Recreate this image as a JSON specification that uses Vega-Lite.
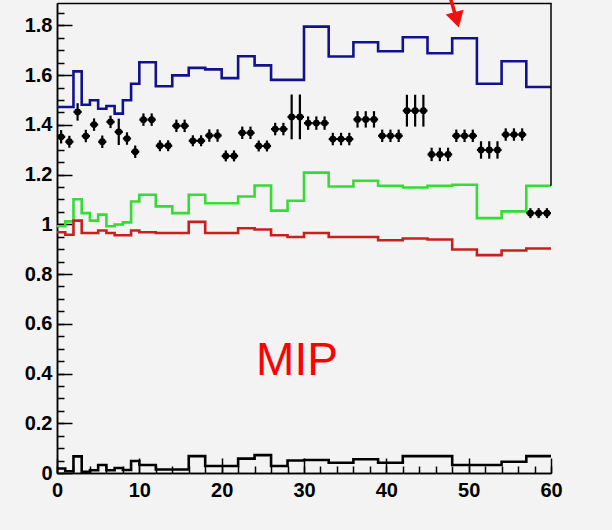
{
  "$schema": "https://vega.github.io/schema/vega-lite/v6.json",
  "width": 494,
  "height": 470,
  "autosize": {"type": "none"},
  "padding": {"left": 57, "top": 3, "right": 61, "bottom": 57},
  "background": "#f3f3f3",
  "config": {
    "view": {"stroke": null},
    "axis": {
      "grid": false,
      "domainColor": "#000000",
      "tickColor": "#000000",
      "labelColor": "#000000",
      "labelFont": "Liberation Sans",
      "labelFontWeight": "bold",
      "labelFontSize": 20,
      "labelFlush": false,
      "labelOverlap": false,
      "domainWidth": 1.5,
      "tickWidth": 1.5
    }
  },
  "datasets": {
    "hist": [
      {"s": "blue", "x": 0, "v": 1.472}, {"s": "blue", "x": 2, "v": 1.615}, {"s": "blue", "x": 3, "v": 1.481}, {"s": "blue", "x": 4, "v": 1.499}, {"s": "blue", "x": 5, "v": 1.465}, {"s": "blue", "x": 6, "v": 1.476}, {"s": "blue", "x": 7, "v": 1.445}, {"s": "blue", "x": 8, "v": 1.499}, {"s": "blue", "x": 9, "v": 1.565}, {"s": "blue", "x": 10, "v": 1.652}, {"s": "blue", "x": 12, "v": 1.555}, {"s": "blue", "x": 14, "v": 1.599}, {"s": "blue", "x": 16, "v": 1.629}, {"s": "blue", "x": 18, "v": 1.623}, {"s": "blue", "x": 20, "v": 1.588}, {"s": "blue", "x": 22, "v": 1.676}, {"s": "blue", "x": 24, "v": 1.639}, {"s": "blue", "x": 26, "v": 1.581}, {"s": "blue", "x": 30, "v": 1.795}, {"s": "blue", "x": 33, "v": 1.675}, {"s": "blue", "x": 36, "v": 1.732}, {"s": "blue", "x": 39, "v": 1.696}, {"s": "blue", "x": 42, "v": 1.752}, {"s": "blue", "x": 45, "v": 1.688}, {"s": "blue", "x": 48, "v": 1.748}, {"s": "blue", "x": 51, "v": 1.565}, {"s": "blue", "x": 54, "v": 1.656}, {"s": "blue", "x": 57, "v": 1.552}, {"s": "blue", "x": 60, "v": 1.552},
      {"s": "green", "x": 0, "v": 0.992}, {"s": "green", "x": 1, "v": 1.012}, {"s": "green", "x": 2, "v": 1.101}, {"s": "green", "x": 3, "v": 1.045}, {"s": "green", "x": 4, "v": 1.015}, {"s": "green", "x": 5, "v": 1.039}, {"s": "green", "x": 6, "v": 0.992}, {"s": "green", "x": 7, "v": 0.999}, {"s": "green", "x": 8, "v": 1.008}, {"s": "green", "x": 9, "v": 1.092}, {"s": "green", "x": 10, "v": 1.119}, {"s": "green", "x": 12, "v": 1.072}, {"s": "green", "x": 14, "v": 1.045}, {"s": "green", "x": 16, "v": 1.119}, {"s": "green", "x": 18, "v": 1.085}, {"s": "green", "x": 22, "v": 1.112}, {"s": "green", "x": 24, "v": 1.156}, {"s": "green", "x": 26, "v": 1.055}, {"s": "green", "x": 28, "v": 1.095}, {"s": "green", "x": 30, "v": 1.208}, {"s": "green", "x": 33, "v": 1.152}, {"s": "green", "x": 36, "v": 1.175}, {"s": "green", "x": 39, "v": 1.155}, {"s": "green", "x": 42, "v": 1.148}, {"s": "green", "x": 45, "v": 1.155}, {"s": "green", "x": 48, "v": 1.159}, {"s": "green", "x": 51, "v": 1.025}, {"s": "green", "x": 54, "v": 1.052}, {"s": "green", "x": 57, "v": 1.155}, {"s": "green", "x": 60, "v": 1.155},
      {"s": "red", "x": 0, "v": 0.968}, {"s": "red", "x": 1, "v": 0.958}, {"s": "red", "x": 2, "v": 1.015}, {"s": "red", "x": 3, "v": 0.965}, {"s": "red", "x": 5, "v": 0.975}, {"s": "red", "x": 6, "v": 0.965}, {"s": "red", "x": 7, "v": 0.956}, {"s": "red", "x": 9, "v": 0.975}, {"s": "red", "x": 10, "v": 0.968}, {"s": "red", "x": 12, "v": 0.965}, {"s": "red", "x": 16, "v": 1.01}, {"s": "red", "x": 18, "v": 0.965}, {"s": "red", "x": 22, "v": 0.984}, {"s": "red", "x": 24, "v": 0.979}, {"s": "red", "x": 26, "v": 0.956}, {"s": "red", "x": 28, "v": 0.949}, {"s": "red", "x": 30, "v": 0.965}, {"s": "red", "x": 33, "v": 0.949}, {"s": "red", "x": 39, "v": 0.936}, {"s": "red", "x": 42, "v": 0.943}, {"s": "red", "x": 45, "v": 0.939}, {"s": "red", "x": 48, "v": 0.899}, {"s": "red", "x": 51, "v": 0.876}, {"s": "red", "x": 54, "v": 0.895}, {"s": "red", "x": 57, "v": 0.903}, {"s": "red", "x": 60, "v": 0.903},
      {"s": "black", "x": 0, "v": 0.018}, {"s": "black", "x": 1, "v": 0.007}, {"s": "black", "x": 2, "v": 0.067}, {"s": "black", "x": 3, "v": 0.005}, {"s": "black", "x": 4, "v": 0.011}, {"s": "black", "x": 5, "v": 0.032}, {"s": "black", "x": 6, "v": 0.011}, {"s": "black", "x": 7, "v": 0.02}, {"s": "black", "x": 8, "v": 0.012}, {"s": "black", "x": 9, "v": 0.048}, {"s": "black", "x": 10, "v": 0.032}, {"s": "black", "x": 12, "v": 0.014}, {"s": "black", "x": 16, "v": 0.068}, {"s": "black", "x": 18, "v": 0.028}, {"s": "black", "x": 22, "v": 0.058}, {"s": "black", "x": 24, "v": 0.072}, {"s": "black", "x": 26, "v": 0.028}, {"s": "black", "x": 28, "v": 0.05}, {"s": "black", "x": 30, "v": 0.052}, {"s": "black", "x": 33, "v": 0.041}, {"s": "black", "x": 36, "v": 0.055}, {"s": "black", "x": 39, "v": 0.041}, {"s": "black", "x": 42, "v": 0.068}, {"s": "black", "x": 48, "v": 0.032}, {"s": "black", "x": 54, "v": 0.045}, {"s": "black", "x": 57, "v": 0.068}, {"s": "black", "x": 60, "v": 0.068}
    ],
    "points": [
      {"xc": 0.5, "x0": 0, "x1": 1, "y": 1.352, "lo": 1.325, "hi": 1.379},
      {"xc": 1.5, "x0": 1, "x1": 2, "y": 1.332, "lo": 1.308, "hi": 1.356},
      {"xc": 2.5, "x0": 2, "x1": 3, "y": 1.452, "lo": 1.417, "hi": 1.487},
      {"xc": 3.5, "x0": 3, "x1": 4, "y": 1.355, "lo": 1.33, "hi": 1.38},
      {"xc": 4.5, "x0": 4, "x1": 5, "y": 1.401, "lo": 1.376, "hi": 1.426},
      {"xc": 5.5, "x0": 5, "x1": 6, "y": 1.332, "lo": 1.307, "hi": 1.357},
      {"xc": 6.5, "x0": 6, "x1": 7, "y": 1.412, "lo": 1.387, "hi": 1.437},
      {"xc": 7.5, "x0": 7, "x1": 8, "y": 1.372, "lo": 1.319, "hi": 1.425},
      {"xc": 8.5, "x0": 8, "x1": 9, "y": 1.345, "lo": 1.32, "hi": 1.37},
      {"xc": 9.5, "x0": 9, "x1": 10, "y": 1.292, "lo": 1.267, "hi": 1.317},
      {"xc": 10.5, "x0": 10, "x1": 11, "y": 1.421, "lo": 1.396, "hi": 1.446},
      {"xc": 11.5, "x0": 11, "x1": 12, "y": 1.421, "lo": 1.396, "hi": 1.446},
      {"xc": 12.5, "x0": 12, "x1": 13, "y": 1.316, "lo": 1.294, "hi": 1.338},
      {"xc": 13.5, "x0": 13, "x1": 14, "y": 1.316, "lo": 1.294, "hi": 1.338},
      {"xc": 14.5, "x0": 14, "x1": 15, "y": 1.396, "lo": 1.371, "hi": 1.421},
      {"xc": 15.5, "x0": 15, "x1": 16, "y": 1.396, "lo": 1.371, "hi": 1.421},
      {"xc": 16.5, "x0": 16, "x1": 17, "y": 1.336, "lo": 1.314, "hi": 1.358},
      {"xc": 17.5, "x0": 17, "x1": 18, "y": 1.336, "lo": 1.314, "hi": 1.358},
      {"xc": 18.5, "x0": 18, "x1": 19, "y": 1.357, "lo": 1.332, "hi": 1.382},
      {"xc": 19.5, "x0": 19, "x1": 20, "y": 1.357, "lo": 1.332, "hi": 1.382},
      {"xc": 20.5, "x0": 20, "x1": 21, "y": 1.275, "lo": 1.253, "hi": 1.297},
      {"xc": 21.5, "x0": 21, "x1": 22, "y": 1.275, "lo": 1.253, "hi": 1.297},
      {"xc": 22.5, "x0": 22, "x1": 23, "y": 1.368, "lo": 1.343, "hi": 1.393},
      {"xc": 23.5, "x0": 23, "x1": 24, "y": 1.368, "lo": 1.343, "hi": 1.393},
      {"xc": 24.5, "x0": 24, "x1": 25, "y": 1.315, "lo": 1.293, "hi": 1.337},
      {"xc": 25.5, "x0": 25, "x1": 26, "y": 1.315, "lo": 1.293, "hi": 1.337},
      {"xc": 26.5, "x0": 26, "x1": 27, "y": 1.383, "lo": 1.358, "hi": 1.408},
      {"xc": 27.5, "x0": 27, "x1": 28, "y": 1.383, "lo": 1.358, "hi": 1.408},
      {"xc": 28.5, "x0": 28, "x1": 29, "y": 1.432, "lo": 1.342, "hi": 1.522},
      {"xc": 29.5, "x0": 29, "x1": 30, "y": 1.432, "lo": 1.342, "hi": 1.522},
      {"xc": 30.5, "x0": 30, "x1": 31, "y": 1.407, "lo": 1.38, "hi": 1.434},
      {"xc": 31.5, "x0": 31, "x1": 32, "y": 1.407, "lo": 1.38, "hi": 1.434},
      {"xc": 32.5, "x0": 32, "x1": 33, "y": 1.407, "lo": 1.38, "hi": 1.434},
      {"xc": 33.5, "x0": 33, "x1": 34, "y": 1.343, "lo": 1.318, "hi": 1.368},
      {"xc": 34.5, "x0": 34, "x1": 35, "y": 1.343, "lo": 1.318, "hi": 1.368},
      {"xc": 35.5, "x0": 35, "x1": 36, "y": 1.343, "lo": 1.318, "hi": 1.368},
      {"xc": 36.5, "x0": 36, "x1": 37, "y": 1.422, "lo": 1.389, "hi": 1.455},
      {"xc": 37.5, "x0": 37, "x1": 38, "y": 1.422, "lo": 1.389, "hi": 1.455},
      {"xc": 38.5, "x0": 38, "x1": 39, "y": 1.422, "lo": 1.389, "hi": 1.455},
      {"xc": 39.5, "x0": 39, "x1": 40, "y": 1.356, "lo": 1.331, "hi": 1.381},
      {"xc": 40.5, "x0": 40, "x1": 41, "y": 1.356, "lo": 1.331, "hi": 1.381},
      {"xc": 41.5, "x0": 41, "x1": 42, "y": 1.356, "lo": 1.331, "hi": 1.381},
      {"xc": 42.5, "x0": 42, "x1": 43, "y": 1.457, "lo": 1.393, "hi": 1.521},
      {"xc": 43.5, "x0": 43, "x1": 44, "y": 1.457, "lo": 1.393, "hi": 1.521},
      {"xc": 44.5, "x0": 44, "x1": 45, "y": 1.457, "lo": 1.393, "hi": 1.521},
      {"xc": 45.5, "x0": 45, "x1": 46, "y": 1.281, "lo": 1.254, "hi": 1.308},
      {"xc": 46.5, "x0": 46, "x1": 47, "y": 1.281, "lo": 1.254, "hi": 1.308},
      {"xc": 47.5, "x0": 47, "x1": 48, "y": 1.281, "lo": 1.254, "hi": 1.308},
      {"xc": 48.5, "x0": 48, "x1": 49, "y": 1.356, "lo": 1.331, "hi": 1.381},
      {"xc": 49.5, "x0": 49, "x1": 50, "y": 1.356, "lo": 1.331, "hi": 1.381},
      {"xc": 50.5, "x0": 50, "x1": 51, "y": 1.356, "lo": 1.331, "hi": 1.381},
      {"xc": 51.5, "x0": 51, "x1": 52, "y": 1.299, "lo": 1.264, "hi": 1.334},
      {"xc": 52.5, "x0": 52, "x1": 53, "y": 1.299, "lo": 1.264, "hi": 1.334},
      {"xc": 53.5, "x0": 53, "x1": 54, "y": 1.299, "lo": 1.264, "hi": 1.334},
      {"xc": 54.5, "x0": 54, "x1": 55, "y": 1.361, "lo": 1.336, "hi": 1.386},
      {"xc": 55.5, "x0": 55, "x1": 56, "y": 1.361, "lo": 1.336, "hi": 1.386},
      {"xc": 56.5, "x0": 56, "x1": 57, "y": 1.361, "lo": 1.336, "hi": 1.386},
      {"xc": 57.5, "x0": 57, "x1": 58, "y": 1.045, "lo": 1.025, "hi": 1.065},
      {"xc": 58.5, "x0": 58, "x1": 59, "y": 1.045, "lo": 1.025, "hi": 1.065},
      {"xc": 59.5, "x0": 59, "x1": 60, "y": 1.045, "lo": 1.025, "hi": 1.065}
    ],
    "frame": [{"x": 60, "y": 1.155, "y2": 1.89}],
    "label": [{"x": 29.15, "y": 0.395, "t": "MIP"}],
    "arrow": [{"x": 47.82, "y": 1.905, "x2": 48.4, "y2": 1.84}],
    "head": [{"x": 48.55, "y": 1.822}]
  },
  "resolve": {"axis": {"x": "independent", "y": "independent"}},
  "layer": [
    {
      "data": {"name": "hist"},
      "transform": [{"filter": "datum.s === 'green'"}],
      "mark": {"type": "line", "interpolate": "step-after", "color": "#36dc36", "strokeWidth": 2.6},
      "encoding": {
        "x": {"field": "x", "type": "quantitative", "scale": {"domain": [0, 60], "nice": false, "zero": false},
          "axis": {"orient": "bottom", "values": [0,2,4,6,8,10,12,14,16,18,20,22,24,26,28,30,32,34,36,38,40,42,44,46,48,50,52,54,56,58,60], "labels": false, "tickSize": -7, "title": null}},
        "y": {"field": "v", "type": "quantitative", "scale": {"domain": [0, 1.89], "nice": false, "zero": false},
          "axis": {"orient": "left", "values": [0,0.05,0.1,0.15,0.2,0.25,0.3,0.35,0.4,0.45,0.5,0.55,0.6,0.65,0.7,0.75,0.8,0.85,0.9,0.95,1,1.05,1.1,1.15,1.2,1.25,1.3,1.35,1.4,1.45,1.5,1.55,1.6,1.65,1.7,1.75,1.8,1.85], "labels": false, "tickSize": -7, "title": null}}
      }
    },
    {
      "data": {"name": "hist"},
      "transform": [{"filter": "datum.s === 'blue'"}],
      "mark": {"type": "line", "interpolate": "step-after", "color": "#12128e", "strokeWidth": 2.6},
      "encoding": {
        "x": {"field": "x", "type": "quantitative", "scale": {"domain": [0, 60], "nice": false, "zero": false},
          "axis": {"orient": "bottom", "values": [0,10,20,30,40,50,60], "format": "d", "tickSize": -15, "labelPadding": 22, "title": null}},
        "y": {"field": "v", "type": "quantitative", "scale": {"domain": [0, 1.89], "nice": false, "zero": false},
          "axis": {"orient": "left", "values": [0,0.2,0.4,0.6,0.8,1,1.2,1.4,1.6,1.8], "format": ".1~f", "tickSize": -15, "labelPadding": 20, "title": null}}
      }
    },
    {
      "data": {"name": "hist"},
      "transform": [{"filter": "datum.s === 'red'"}],
      "mark": {"type": "line", "interpolate": "step-after", "color": "#c8201f", "strokeWidth": 2.6},
      "encoding": {
        "x": {"field": "x", "type": "quantitative", "scale": {"domain": [0, 60], "nice": false, "zero": false},
          "axis": {"orient": "top", "labels": false, "ticks": false, "title": null}},
        "y": {"field": "v", "type": "quantitative", "scale": {"domain": [0, 1.89], "nice": false, "zero": false}, "axis": null}
      }
    },
    {
      "data": {"name": "hist"},
      "transform": [{"filter": "datum.s === 'black'"}],
      "mark": {"type": "line", "interpolate": "step-after", "color": "#000000", "strokeWidth": 2.6},
      "encoding": {
        "x": {"field": "x", "type": "quantitative", "scale": {"domain": [0, 60], "nice": false, "zero": false}, "axis": null},
        "y": {"field": "v", "type": "quantitative", "scale": {"domain": [0, 1.89], "nice": false, "zero": false}, "axis": null}
      }
    },
    {
      "data": {"name": "frame"},
      "mark": {"type": "rule", "color": "#000000", "strokeWidth": 1.5},
      "encoding": {
        "x": {"field": "x", "type": "quantitative", "scale": {"domain": [0, 60], "nice": false, "zero": false}, "axis": null},
        "y": {"field": "y", "type": "quantitative", "scale": {"domain": [0, 1.89], "nice": false, "zero": false}, "axis": null},
        "y2": {"field": "y2"}
      }
    },
    {
      "data": {"name": "points"},
      "mark": {"type": "rule", "color": "#000000", "strokeWidth": 2.2},
      "encoding": {
        "x": {"field": "x0", "type": "quantitative", "scale": {"domain": [0, 60], "nice": false, "zero": false}, "axis": null},
        "x2": {"field": "x1"},
        "y": {"field": "y", "type": "quantitative", "scale": {"domain": [0, 1.89], "nice": false, "zero": false}, "axis": null}
      }
    },
    {
      "data": {"name": "points"},
      "mark": {"type": "rule", "color": "#000000", "strokeWidth": 2.2},
      "encoding": {
        "x": {"field": "xc", "type": "quantitative", "scale": {"domain": [0, 60], "nice": false, "zero": false}, "axis": null},
        "y": {"field": "lo", "type": "quantitative", "scale": {"domain": [0, 1.89], "nice": false, "zero": false}, "axis": null},
        "y2": {"field": "hi"}
      }
    },
    {
      "data": {"name": "points"},
      "mark": {"type": "point", "shape": "circle", "filled": true, "color": "#000000", "size": 46, "opacity": 1},
      "encoding": {
        "x": {"field": "xc", "type": "quantitative", "scale": {"domain": [0, 60], "nice": false, "zero": false}, "axis": null},
        "y": {"field": "y", "type": "quantitative", "scale": {"domain": [0, 1.89], "nice": false, "zero": false}, "axis": null}
      }
    },
    {
      "data": {"name": "label"},
      "mark": {"type": "text", "color": "#ff0000", "font": "Liberation Sans", "fontSize": 46, "align": "center", "baseline": "alphabetic"},
      "encoding": {
        "x": {"field": "x", "type": "quantitative", "scale": {"domain": [0, 60], "nice": false, "zero": false}, "axis": null},
        "y": {"field": "y", "type": "quantitative", "scale": {"domain": [0, 1.89], "nice": false, "zero": false}, "axis": null},
        "text": {"field": "t"}
      }
    },
    {
      "data": {"name": "arrow"},
      "mark": {"type": "rule", "color": "#f01010", "strokeWidth": 3.5},
      "encoding": {
        "x": {"field": "x", "type": "quantitative", "scale": {"domain": [0, 60], "nice": false, "zero": false}, "axis": null},
        "y": {"field": "y", "type": "quantitative", "scale": {"domain": [0, 1.89], "nice": false, "zero": false}, "axis": null},
        "x2": {"field": "x2"},
        "y2": {"field": "y2"}
      }
    },
    {
      "data": {"name": "head"},
      "mark": {"type": "point", "shape": "triangle-down", "filled": true, "color": "#f01010", "size": 340, "angle": -15, "opacity": 1},
      "encoding": {
        "x": {"field": "x", "type": "quantitative", "scale": {"domain": [0, 60], "nice": false, "zero": false}, "axis": null},
        "y": {"field": "y", "type": "quantitative", "scale": {"domain": [0, 1.89], "nice": false, "zero": false}, "axis": null}
      }
    }
  ]
}
